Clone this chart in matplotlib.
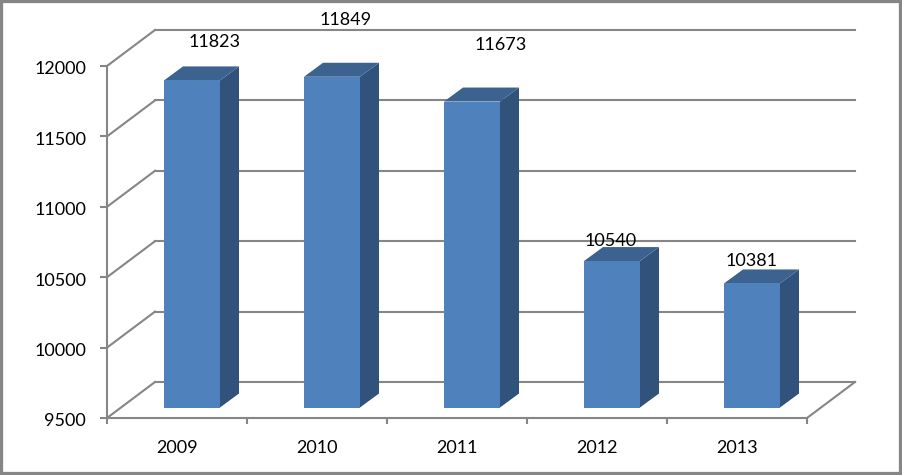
import numpy as np
import matplotlib
matplotlib.use('Agg')
import matplotlib.pyplot as plt
from matplotlib.patches import Polygon, Rectangle
from matplotlib.transforms import ScaledTranslation

years = ['2009', '2010', '2011', '2012', '2013']
values = [11823, 11849, 11673, 10540, 10381]
yticks = [9500, 10000, 10500, 11000, 11500, 12000]
# where each label sits relative to the top of its bar, in pixels
label_dx = [38, 29, 44, 14, 15]
label_dy = [49, 67, 67, 31, 33]

W, H = 902, 475
grey = '#868686'
front = '#4f81bd'
side = '#31527b'
top = '#3c6390'

plt.rcParams['font.family'] = ['Lato', 'DejaVu Sans']

fig = plt.figure(figsize=(W / 100, H / 100), dpi=100)
fig.add_artist(Rectangle((0, 0), 1, 1, transform=fig.transFigure, fill=False,
                         ec=grey, lw=4.5))

# front plane of the box: 107..807 px across, 418..66 px down
ax = fig.add_axes([107 / W, 1 - 418 / H, 700 / W, 352 / H])
ax.set_xlim(0, 5)
ax.set_ylim(9500, 12000)
ax.patch.set_visible(False)

# depth of the box and of the bars, in data units
cat_px = 700 / 5
val_px = 352 / 2500
wall_dx, wall_dy = 48 / cat_px, 36 / val_px
bar_dx, bar_dy = 19 / cat_px, 14 / val_px
# front face of a bar sits a bit inside the floor
in_dx, in_dy = 15 / cat_px, 10.5 / val_px
bar_w = 56 / cat_px

for v in yticks:
    ax.plot([0, wall_dx], [v, v + wall_dy], color=grey, lw=1.5, clip_on=False, zorder=1)
    ax.plot([wall_dx, 5 + wall_dx], [v + wall_dy, v + wall_dy], color=grey, lw=1.5,
            clip_on=False, zorder=1)
ax.plot([5, 5 + wall_dx], [9500, 9500 + wall_dy], color=grey, lw=1.5, clip_on=False, zorder=1)

for i, (year, v) in enumerate(zip(years, values)):
    x0 = i + 0.5 + in_dx - bar_w / 2
    x1 = x0 + bar_w
    y0 = 9500 + in_dy
    y1 = v + in_dy
    ax.add_patch(Polygon([(x1, y0), (x1 + bar_dx, y0 + bar_dy), (x1 + bar_dx, y1 + bar_dy), (x1, y1)],
                         fc=side, ec='none', clip_on=False, zorder=3))
    ax.add_patch(Polygon([(x0, y1), (x0 + bar_dx, y1 + bar_dy), (x1 + bar_dx, y1 + bar_dy), (x1, y1)],
                         fc=top, ec='none', clip_on=False, zorder=3))
    ax.add_patch(Polygon([(x0, y0), (x1, y0), (x1, y1), (x0, y1)],
                         fc=front, ec='none', clip_on=False, zorder=3))
    ax.annotate(str(v), xy=(i + 0.5, v), xytext=(label_dx[i], label_dy[i]),
                textcoords='offset pixels', ha='center', va='center', fontsize=13,
                color='black', annotation_clip=False, zorder=5)

ax.set_yticks(yticks)
ax.set_xticks(np.arange(6))
ax.set_xticklabels([])
ax.set_xticks(np.arange(5) + 0.5, labels=years, minor=True)
ax.tick_params(axis='x', which='minor', length=0, pad=15.5, labelsize=13)
ax.tick_params(axis='x', which='major', length=4, width=1.5, color=grey)
ax.tick_params(axis='y', length=5, width=1.5, color=grey, pad=10, labelsize=13)
down = ScaledTranslation(0, -2 / 100, fig.dpi_scale_trans)
for label in ax.get_yticklabels():
    label.set_transform(label.get_transform() + down)
for s in ['top', 'right']:
    ax.spines[s].set_visible(False)
for s in ['left', 'bottom']:
    ax.spines[s].set_color(grey)
    ax.spines[s].set_linewidth(1.5)

fig.savefig('out.png', dpi=100)
